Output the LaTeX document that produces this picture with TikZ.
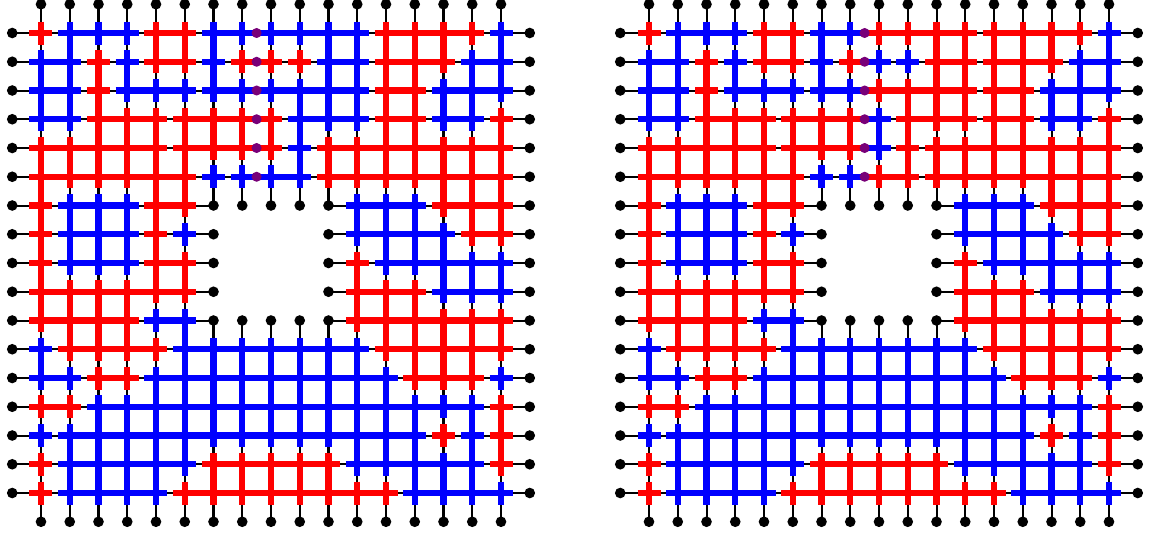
\documentclass[tikz,border=0pt]{standalone}
\definecolor{c1}{RGB}{255,0,0}
\definecolor{c2}{RGB}{0,0,255}
\definecolor{seamdot}{RGB}{120,0,120}
\tikzset{gridline/.style={black,line width=0.07cm},
  bond/.style={line width=0.22cm}}
\newcommand\drawgrid[3]{%
\begin{scope}[shift={(#1,-0.148)}]
  \foreach \r in {1,2,3,4,5,6,12,13,14,15,16,17} \draw[gridline] (0,-\r) -- (18,-\r);
  \foreach \r in {7,8,9,10,11} {\draw[gridline] (0,-\r) -- (7,-\r); \draw[gridline] (11,-\r) -- (18,-\r);}
  \foreach \c in {1,2,3,4,5,6,12,13,14,15,16,17} \draw[gridline] (\c,0) -- (\c,-18);
  \foreach \c in {7,8,9,10,11} {\draw[gridline] (\c,0) -- (\c,-7); \draw[gridline] (\c,-11) -- (\c,-18);}
  \foreach \r/\runs in {#2} {\foreach \a/\b/\k in \runs {%
      \draw[bond,color=c\k] (\a-0.4,-\r) -- (\b+0.4,-\r);
      \foreach \c in {\a,...,\b} {\draw[bond,color=c\k] (\c,-\r+0.4) -- (\c,-\r-0.4);}}}
  \foreach \c/\runs in {#3} {\foreach \a/\b/\k in \runs {%
      \draw[bond,color=c\k] (\c,-\a) -- (\c,-\b);}}
  \foreach \r in {1,...,6} \fill[seamdot] (8.5,-\r) circle (0.175);
  \foreach \c in {1,...,17} {\fill (\c,0) circle (0.185); \fill (\c,-18) circle (0.185);
     \fill (0,-\c) circle (0.185); \fill (18,-\c) circle (0.185);}
  \foreach \c in {7,...,11} {\fill (\c,-7) circle (0.185); \fill (\c,-11) circle (0.185);}
  \foreach \r in {8,9,10} {\fill (7,-\r) circle (0.185); \fill (11,-\r) circle (0.185);}
\end{scope}}
\begin{document}
\begin{tikzpicture}[x=1cm,y=1cm]
\useasboundingbox (0,0) rectangle (40.035,-18.609);
% left grid
\drawgrid{0.426}{%
1/{1/1/1,2/4/2,5/6/1,7/8/2,9/12/2,13/16/1,17/17/2},
2/{1/2/2,3/3/1,4/4/2,5/6/1,7/7/2,8/8/1,9/9/1,10/10/1,11/12/2,13/15/1,16/17/2},
3/{1/2/2,3/3/1,4/6/2,7/8/2,9/12/2,13/14/1,15/17/2},
4/{1/2/2,3/5/1,6/8/1,9/9/1,10/12/2,13/14/1,15/16/2,17/17/1},
5/{1/5/1,6/8/1,9/9/1,10/10/2,11/17/1},
6/{1/6/1,7/7/2,8/8/2,9/10/2,11/17/1},
7/{1/1/1,2/4/2,5/6/1,12/14/2,15/17/1},
8/{1/1/1,2/4/2,5/5/1,6/6/2,12/15/2,16/17/1},
9/{1/1/1,2/4/2,5/6/1,12/12/1,13/17/2},
10/{1/6/1,12/14/1,15/17/2},
11/{1/4/1,5/6/2,12/17/1},
12/{1/1/2,2/5/1,6/12/2,13/17/1},
13/{1/2/2,3/4/1,5/13/2,14/16/1,17/17/2},
14/{1/2/1,3/16/2,17/17/1},
15/{1/1/2,2/14/2,15/15/1,16/16/2,17/17/1},
16/{1/1/1,2/6/2,7/11/1,12/16/2,17/17/1},
17/{1/1/1,2/5/2,6/13/1,14/17/2}}{%
1/{2/4/2,5/11/1,12/13/2},
2/{1/4/2,5/6/1,7/9/2,10/12/1,15/17/2},
3/{2/6/1,7/9/2,10/12/1,14/17/2},
4/{2/3/2,4/6/1,7/9/2,10/12/1,14/17/2},
5/{1/2/1,4/10/1,13/17/2},
6/{1/2/1,4/7/1,9/10/1,11/16/2},
7/{1/3/2,4/5/1,12/15/2,16/17/1},
8/{4/5/1,12/15/2,16/17/1},
9/{4/5/1,12/15/2,16/17/1},
10/{3/6/2,12/15/2,16/17/1},
11/{1/4/2,5/6/1,12/15/2,16/17/1},
12/{1/4/2,5/6/1,7/8/2,9/11/1,12/16/2},
13/{1/6/1,7/9/2,10/12/1,13/16/2},
14/{1/6/1,7/9/2,10/13/1,14/17/2},
15/{1/2/1,3/4/2,5/7/1,8/10/2,11/13/1,16/17/2},
16/{2/4/2,5/8/1,9/10/2,11/13/1,14/17/2},
17/{1/3/2,4/8/1,9/10/2,11/12/1,14/16/1}}
% right grid
\drawgrid{21.574}{%
1/{1/1/1,2/4/2,5/6/1,7/8/2,9/12/1,13/16/1,17/17/2},
2/{1/2/2,3/3/1,4/4/2,5/6/1,7/7/2,8/8/1,9/9/2,10/10/2,11/12/1,13/15/1,16/17/2},
3/{1/2/2,3/3/1,4/6/2,7/8/2,9/12/1,13/14/1,15/17/2},
4/{1/2/2,3/5/1,6/8/1,9/9/2,10/12/1,13/14/1,15/16/2,17/17/1},
5/{1/5/1,6/8/1,9/9/2,10/10/1,11/17/1},
6/{1/6/1,7/7/2,8/8/2,9/10/1,11/17/1},
7/{1/1/1,2/4/2,5/6/1,12/14/2,15/17/1},
8/{1/1/1,2/4/2,5/5/1,6/6/2,12/15/2,16/17/1},
9/{1/1/1,2/4/2,5/6/1,12/12/1,13/17/2},
10/{1/6/1,12/14/1,15/17/2},
11/{1/4/1,5/6/2,12/17/1},
12/{1/1/2,2/5/1,6/12/2,13/17/1},
13/{1/2/2,3/4/1,5/13/2,14/16/1,17/17/2},
14/{1/2/1,3/16/2,17/17/1},
15/{1/1/2,2/14/2,15/15/1,16/16/2,17/17/1},
16/{1/1/1,2/6/2,7/11/1,12/16/2,17/17/1},
17/{1/1/1,2/5/2,6/13/1,14/17/2}}{%
1/{2/4/2,5/11/1,12/13/2},
2/{1/4/2,5/6/1,7/9/2,10/12/1,15/17/2},
3/{2/6/1,7/9/2,10/12/1,14/17/2},
4/{2/3/2,4/6/1,7/9/2,10/12/1,14/17/2},
5/{1/2/1,4/10/1,13/17/2},
6/{1/2/1,4/7/1,9/10/1,11/16/2},
7/{1/3/2,4/5/1,12/15/2,16/17/1},
8/{4/5/1,12/15/2,16/17/1},
9/{4/5/2,12/15/2,16/17/1},
10/{3/6/1,12/15/2,16/17/1},
11/{1/4/1,5/6/1,12/15/2,16/17/1},
12/{1/4/1,5/6/1,7/8/2,9/11/1,12/16/2},
13/{1/6/1,7/9/2,10/12/1,13/16/2},
14/{1/6/1,7/9/2,10/13/1,14/17/2},
15/{1/2/1,3/4/2,5/7/1,8/10/2,11/13/1,16/17/2},
16/{2/4/2,5/8/1,9/10/2,11/13/1,14/17/2},
17/{1/3/2,4/8/1,9/10/2,11/12/1,14/16/1}}
\end{tikzpicture}
\end{document}
